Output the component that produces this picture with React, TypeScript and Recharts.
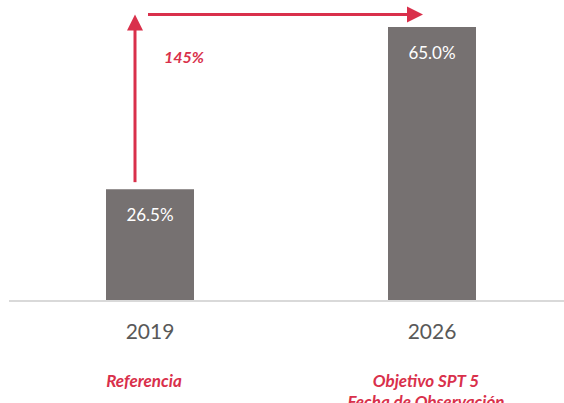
import { BarChart, Bar, XAxis, YAxis, LabelList, ReferenceLine } from "recharts";

const years = ["2019", "2026"];
const shares = [26.5, 65.0];
const notes = [["Referencia"], ["Objetivo SPT 5", "Fecha de Observación"]];
const growthLabel = "145%";
const arrowBase = 28.2;
const arrowTop = 68.0;

const RED = "#d9304b";
const FONT = "Lato, 'Open Sans', sans-serif";

const chartData = years.map((year, i) => ({ year, share: shares[i] }));

function YearTick(props: any) {
  const { x, y, payload, index } = props;
  const lines = notes[index] || [];
  return (
    <g>
      <text x={x} y={y + 38} textAnchor="middle" fill="#595959" fontSize={21} fontFamily={FONT}>
        {payload.value}
      </text>
      {lines.map((line: string, i: number) => (
        <text
          key={line}
          x={x - 6}
          y={y + 86 + i * 21}
          textAnchor="middle"
          fill={RED}
          fontSize={17}
          fontWeight="bold"
          fontStyle="italic"
          fontFamily={FONT}
        >
          {line}
        </text>
      ))}
    </g>
  );
}

function UpArrow(props: any) {
  const { x1, y1, y2 } = props;
  const x = x1 - 15;
  const top = Math.min(y1, y2);
  const bottom = Math.max(y1, y2);
  return (
    <g>
      <line x1={x} y1={bottom} x2={x} y2={top + 14} stroke={RED} strokeWidth={3} />
      <polygon points={`${x - 8},${top + 16} ${x + 8},${top + 16} ${x},${top}`} fill={RED} />
      <text
        x={x + 49}
        y={top + 49}
        textAnchor="middle"
        fill={RED}
        fontSize={16}
        fontWeight="bold"
        fontStyle="italic"
        fontFamily={FONT}
      >
        {growthLabel}
      </text>
    </g>
  );
}

function RightArrow(props: any) {
  const { x1, x2, y1 } = props;
  const start = x1 - 2;
  const end = x2 - 9;
  return (
    <g>
      <line x1={start} y1={y1} x2={end - 14} y2={y1} stroke={RED} strokeWidth={3} />
      <polygon points={`${end - 16},${y1 - 8} ${end - 16},${y1 + 8} ${end},${y1}`} fill={RED} />
    </g>
  );
}

export default function App() {
  return (
    <div
      style={{
        position: "absolute",
        left: 0,
        top: 0,
        width: 564,
        height: 403,
        overflow: "hidden",
        background: "#fff",
      }}
    >
      <BarChart
        width={573}
        height={403}
        data={chartData}
        margin={{ top: 6, right: 0, bottom: 0, left: 9 }}
      >
        <XAxis
          dataKey="year"
          height={102}
          interval={0}
          tickLine={false}
          tickSize={0}
          tickMargin={0}
          axisLine={{ stroke: "#d9d9d9", strokeWidth: 2 }}
          tick={<YearTick />}
        />
        <YAxis hide domain={[0, 70]} />
        <Bar dataKey="share" fill="#767171" barSize={88} isAnimationActive={false}>
          <LabelList
            dataKey="share"
            position="insideTop"
            offset={20}
            fill="#ffffff"
            fontSize={17}
            fontFamily={FONT}
            formatter={(v: any) => `${Number(v).toFixed(1)}%`}
          />
        </Bar>
        <ReferenceLine
          segment={[
            { x: years[0], y: arrowBase },
            { x: years[0], y: arrowTop },
          ]}
          shape={<UpArrow />}
        />
        <ReferenceLine
          segment={[
            { x: years[0], y: arrowTop },
            { x: years[1], y: arrowTop },
          ]}
          shape={<RightArrow />}
        />
      </BarChart>
    </div>
  );
}
